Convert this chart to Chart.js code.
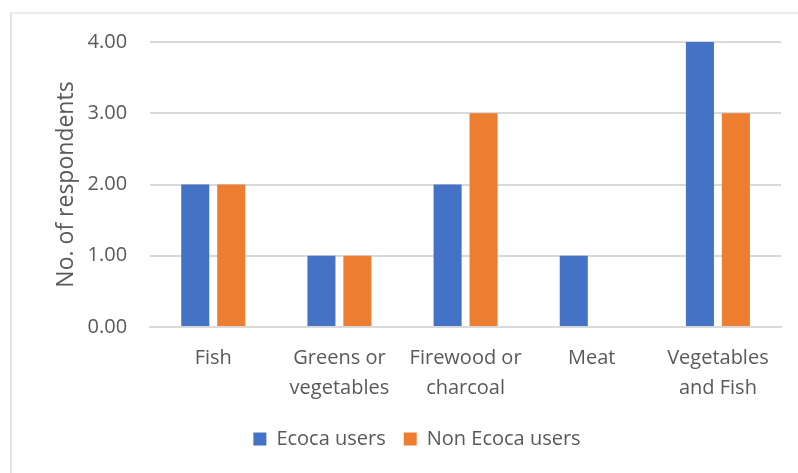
<!DOCTYPE html>
<html>
<head>
<meta charset="utf-8">
<script src="https://cdn.jsdelivr.net/npm/chart.js@4"></script>
<style>
  body { margin: 0; background: #fff; }
  #frame { position: absolute; left: 10px; top: 12px; width: 800px; height: 470px;
           border-left: 2px solid #e3e3e3; border-top: 2px solid #ececec; }
  #wrap { position: absolute; left: 0; top: 0; width: 798px; height: 473px; }
</style>
</head>
<body>
<div id="frame"></div>
<div id="wrap"><canvas id="chart"></canvas></div>
<script>
const categories = [['Fish'], ['Greens or', 'vegetables'], ['Firewood or', 'charcoal'], ['Meat'], ['Vegetables', 'and Fish']];
const ecocaUsers = [2, 1, 2, 1, 4];
const nonEcocaUsers = [2, 1, 3, 0, 3];
const yTicks = [0, 1, 2, 3, 4];

document.addEventListener("DOMContentLoaded", function (e) {
    const txt = '#595959';
    const font = "'Open Sans', 'Liberation Sans', sans-serif";

    const chart = new Chart(document.querySelector("#chart"), {
        type: "bar",
        data: {
            labels: categories,
            datasets: [{
                label: 'Ecoca users',
                data: ecocaUsers,
                backgroundColor: '#4472C4',
                categoryPercentage: 0.57,
                barPercentage: 0.78
            }, {
                label: 'Non Ecoca users',
                data: nonEcocaUsers,
                backgroundColor: '#ED7D31',
                categoryPercentage: 0.57,
                barPercentage: 0.78
            }]
        },
        options: {
            responsive: true,
            maintainAspectRatio: false,
            animation: false,
            layout: { padding: { left: 53, right: 17, top: 42, bottom: 14 } },
            plugins: {
                legend: {
                    position: 'bottom',
                    labels: { color: txt, font: { family: font, size: 20 }, boxWidth: 13, boxHeight: 13, padding: 18 }
                },
                tooltip: { enabled: false }
            },
            scales: {
                x: {
                    grid: { display: false },
                    border: { color: '#d9d9d9', width: 2 },
                    ticks: { color: txt, font: { family: font, size: 20, lineHeight: 1.5 }, maxRotation: 0, padding: 8 }
                },
                y: {
                    min: 0,
                    max: 4,
                    afterBuildTicks: function (axis) { axis.ticks = yTicks.map(v => ({ value: v })); },
                    grid: { color: '#d9d9d9', lineWidth: 2, drawTicks: false },
                    border: { display: false },
                    ticks: { color: txt, font: { family: font, size: 20 }, padding: 23,
                             callback: v => v.toFixed(2) },
                    title: { display: true, text: 'No. of respondents', color: txt,
                             font: { family: font, size: 23 }, padding: { top: 0, bottom: -16 } }
                }
            }
        }
    });
});
</script>
</body>
</html>
